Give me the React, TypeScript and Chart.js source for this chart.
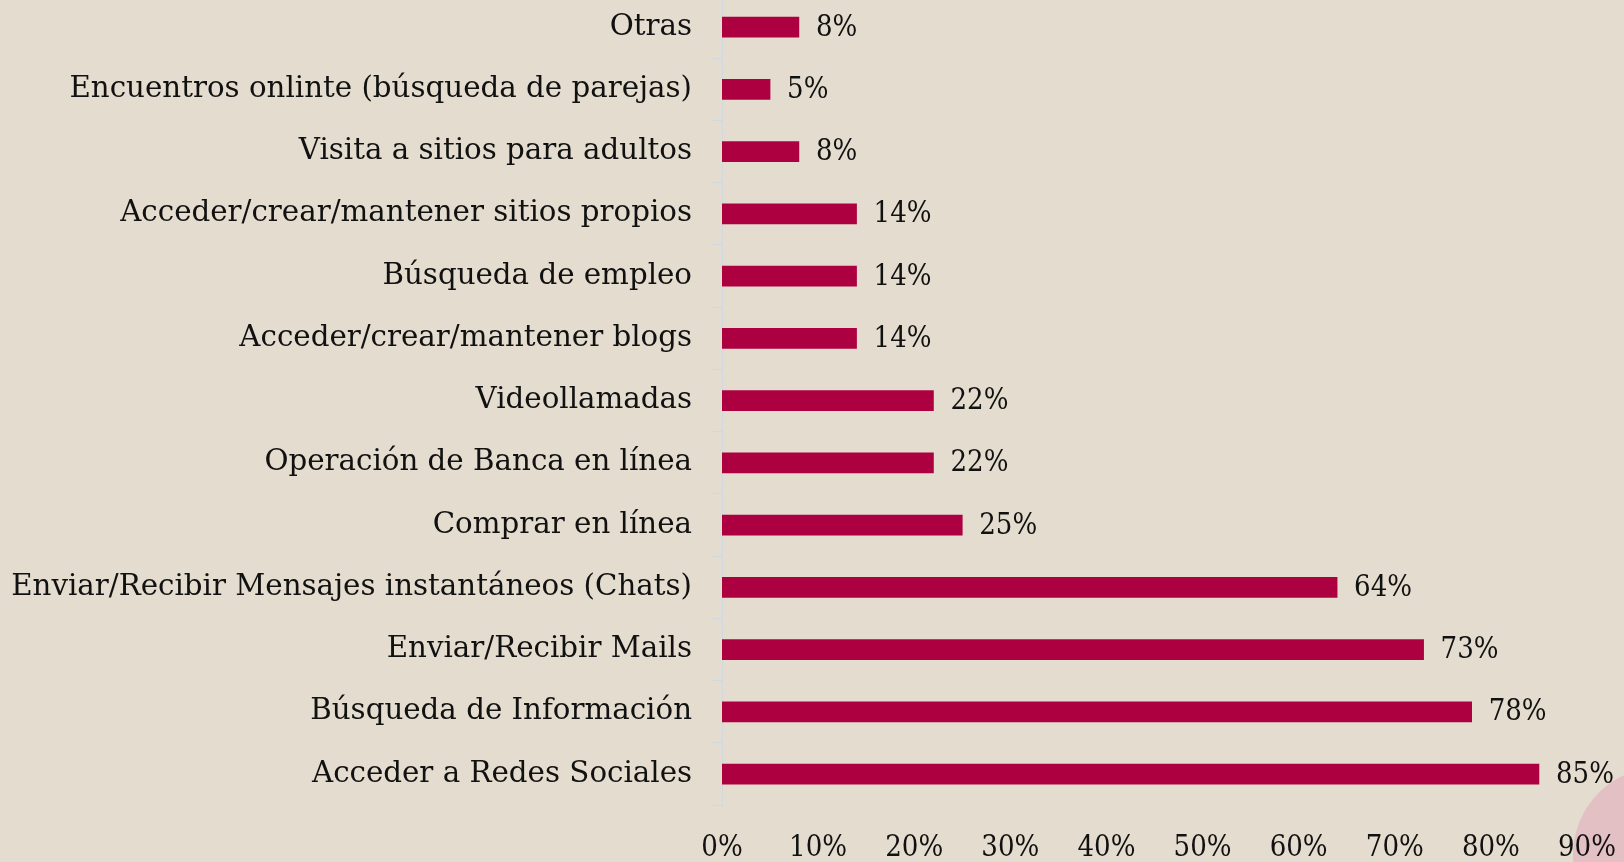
import React, { useEffect, useRef } from "react";
import { Chart, registerables } from "chart.js";

Chart.register(...registerables);

const categories: string[] = [
  "Otras",
  "Encuentros onlinte (búsqueda de parejas)",
  "Visita a sitios para adultos",
  "Acceder/crear/mantener sitios propios",
  "Búsqueda de empleo",
  "Acceder/crear/mantener blogs",
  "Videollamadas",
  "Operación de Banca en línea",
  "Comprar en línea",
  "Enviar/Recibir Mensajes instantáneos (Chats)",
  "Enviar/Recibir Mails",
  "Búsqueda de Información",
  "Acceder a Redes Sociales",
];

const percentages: number[] = [8, 5, 8, 14, 14, 14, 22, 22, 25, 64, 73, 78, 85];

const axisMax = 90;
const axisStep = 10;

const BAR_COLOR = "#ac0040";
const LABEL_FONT = "'DejaVu Serif', serif";
const NUM_FONT = "'DejaVu Serif Condensed', 'DejaVu Serif', serif";

const valueLabels = {
  id: "valueLabels",
  afterDatasetsDraw(chart: any) {
    const ctx = chart.ctx;
    const meta = chart.getDatasetMeta(0);
    ctx.save();
    ctx.font = `29px ${NUM_FONT}`;
    ctx.fillStyle = "#111111";
    ctx.textAlign = "left";
    ctx.textBaseline = "middle";
    meta.data.forEach((bar: any, i: number) => {
      const v = chart.data.datasets[0].data[i];
      ctx.fillText(`${v}%`, bar.x + 17, bar.y + 1);
    });
    ctx.restore();
  },
};

export default function App() {
  const canvasRef = useRef<HTMLCanvasElement | null>(null);

  useEffect(() => {
    const canvas = canvasRef.current;
    if (!canvas) return;
    const chart = new Chart(canvas, {
      type: "bar",
      data: {
        labels: categories,
        datasets: [
          {
            data: percentages,
            backgroundColor: BAR_COLOR,
            borderWidth: 0,
            barThickness: 20,
          },
        ],
      },
      options: {
        indexAxis: "y",
        animation: false,
        responsive: false,
        devicePixelRatio: 1,
        layout: { padding: { top: 6, bottom: 6, left: 0, right: 37 } },
        plugins: {
          legend: { display: false },
          tooltip: { enabled: false },
        },
        scales: {
          x: {
            type: "linear",
            min: 0,
            max: axisMax,
            ticks: {
              stepSize: axisStep,
              padding: 26,
              color: "#111111",
              font: { family: NUM_FONT, size: 29 },
              callback: (v: any) => `${v}%`,
            },
            grid: { display: false, drawTicks: false },
            border: { display: false },
            afterFit: (s: any) => {
              s.paddingLeft = 0;
              s.paddingRight = 0;
            },
          },
          y: {
            type: "category",
            ticks: {
              padding: 20,
              color: "#111111",
              font: { family: LABEL_FONT, size: 29.3 },
            },
            grid: {
              display: true,
              drawOnChartArea: false,
              drawTicks: true,
              tickLength: 10,
              color: "#d3d7df",
              offset: true,
            },
            border: { display: true, color: "#d3d7df", width: 1 },
            afterFit: (s: any) => {
              s.width = 722;
              s.paddingTop = 0;
              s.paddingBottom = 0;
            },
          },
        },
      },
      plugins: [valueLabels],
    });
    return () => chart.destroy();
  }, []);

  return (
    <div
      style={{
        position: "fixed",
        left: 0,
        top: 0,
        width: 1624,
        height: 862,
        background: "#e4ddcf",
        overflow: "hidden",
      }}
    >
      <div
        style={{
          position: "absolute",
          left: 1573,
          top: 767,
          width: 176,
          height: 176,
          borderRadius: "50%",
          background: "#e2c0c3",
        }}
      />
      <canvas
        ref={canvasRef}
        width={1624}
        height={908}
        style={{ position: "absolute", left: 0, top: -10, width: 1624, height: 908 }}
      />
    </div>
  );
}
